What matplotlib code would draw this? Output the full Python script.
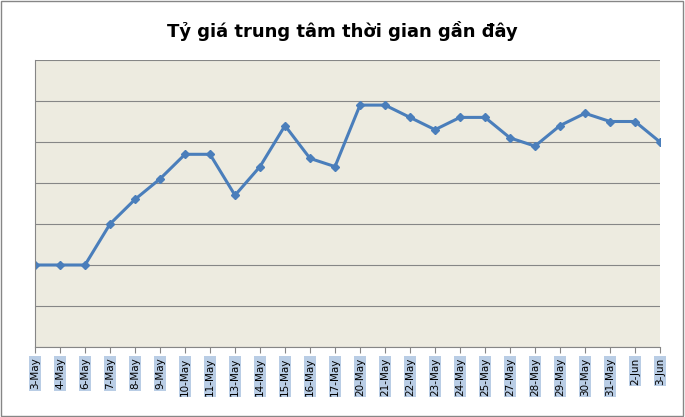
import matplotlib.pyplot as plt
from matplotlib.patches import Rectangle

dates = ['3-May', '4-May', '6-May', '7-May', '8-May', '9-May', '10-May', '11-May',
         '13-May', '14-May', '15-May', '16-May', '17-May', '20-May', '21-May', '22-May',
         '23-May', '24-May', '25-May', '27-May', '28-May', '29-May', '30-May', '31-May',
         '2-Jun', '3-Jun']
values = [2, 2, 2, 3, 3.6, 4.1, 4.7, 4.7, 3.7, 4.4, 5.4, 4.6, 4.4, 5.9, 5.9, 5.6,
          5.3, 5.6, 5.6, 5.1, 4.9, 5.4, 5.7, 5.5, 5.5, 5.0]

fig = plt.figure(figsize=(6.85, 4.17), dpi=100)
fig.patches.append(Rectangle((0.002, 0.003), 0.995, 0.994, transform=fig.transFigure,
                             fill=False, edgecolor='#868686', lw=1))
ax = fig.add_axes([35 / 685, 1 - 347 / 417, 625 / 685, 287 / 417])
ax.set_facecolor('#EDEBE0')
x = range(len(dates))
ax.plot(x, values, color='#4A7EBB', lw=2.2, marker='D', ms=4)
ax.set_xlim(0, len(dates) - 1)
ax.set_ylim(0, 7)
ax.set_yticks(range(8))
ax.set_yticklabels([])
ax.tick_params(axis='y', length=0)
ax.grid(axis='y', color='#868686', lw=0.8)
ax.set_axisbelow(True)
for s in ['top', 'right']:
    ax.spines[s].set_visible(False)
ax.spines['left'].set_color('#868686')
ax.spines['bottom'].set_color('#868686')
ax.set_xticks(list(x))
ax.set_xticklabels(dates, rotation=90, fontsize=7.5, va='top')
for t in ax.get_xticklabels():
    t.set_bbox(dict(facecolor='#B9CDE5', edgecolor='none', pad=1))
ax.tick_params(axis='x', length=4, color='#868686')
fig.suptitle('Tỷ giá trung tâm thời gian gần đây', y=0.95, fontsize=13,
             fontweight='bold')
fig.savefig('out.png')
